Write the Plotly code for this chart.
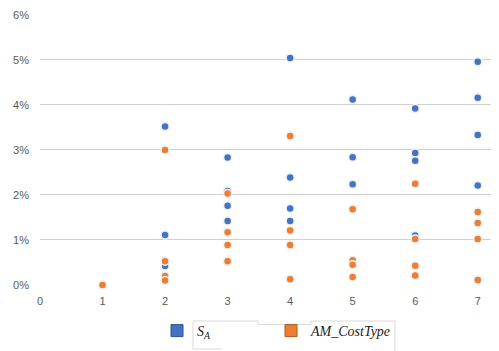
import plotly.graph_objects as go

# Data
sa_x = [1, 2, 2, 2, 3, 3, 3, 3, 4, 4, 4, 4, 5, 5, 5, 6, 6, 6, 6, 7, 7, 7, 7]
sa_y = [0.0, 0.0352, 0.0111, 0.0042,
        0.0283, 0.0209, 0.0176, 0.0142,
        0.0504, 0.0239, 0.0170, 0.0142,
        0.0412, 0.0284, 0.0224,
        0.0392, 0.0293, 0.0276, 0.0110,
        0.0496, 0.0416, 0.0333, 0.0221]

am_x = [1, 2, 2, 2, 2, 3, 3, 3, 3, 4, 4, 4, 4, 5, 5, 5, 5, 6, 6, 6, 6, 7, 7, 7, 7]
am_y = [0.0, 0.0300, 0.0053, 0.0020, 0.0010,
        0.0203, 0.0117, 0.0089, 0.0053,
        0.0331, 0.0121, 0.0089, 0.0013,
        0.0168, 0.0055, 0.0045, 0.0018,
        0.0225, 0.0102, 0.0043, 0.0021,
        0.0162, 0.0138, 0.0102, 0.0011]

x_ticks = [0, 1, 2, 3, 4, 5, 6, 7]
y_ticks = [0, 0.01, 0.02, 0.03, 0.04, 0.05, 0.06]

BLUE = "#4472C4"
ORANGE = "#ED7D31"

fig = go.Figure()
fig.add_trace(go.Scatter(x=sa_x, y=sa_y, mode="markers", showlegend=False, cliponaxis=False,
                         marker=dict(color=BLUE, size=8, line=dict(color="#f0f0f0", width=1.5))))
fig.add_trace(go.Scatter(x=am_x, y=am_y, mode="markers", showlegend=False, cliponaxis=False,
                         marker=dict(color=ORANGE, size=8, line=dict(color="#f0f0f0", width=1.5))))
# legend entries (square swatches)
fig.add_trace(go.Scatter(x=[None], y=[None], mode="markers", name="<i>S<sub>A</sub></i>",
                         legend="legend",
                         marker=dict(symbol="square", color=BLUE, size=12, line=dict(color="#2F528F", width=1))))
fig.add_trace(go.Scatter(x=[None], y=[None], mode="markers", name="<i>AM_CostType</i>",
                         legend="legend2",
                         marker=dict(symbol="square", color=ORANGE, size=12, line=dict(color="#AE5A21", width=1))))

# page body has an 8px default margin, so the figure is offset by 8px
OFF = 8
W, H = 499 - OFF, 351 - OFF
L, R, T, B = 32, 0, 6, 66
pw, ph = W - L - R, H - T - B

def px(xp):
    return (xp - OFF - L) / pw

def py(yp):
    return (H - B - (yp - OFF)) / ph

# thin frame artifact around the legend
path = (f"M {px(193)},{py(349)} L {px(193)},{py(321)} L {px(258)},{py(321)} "
        f"L {px(258)},{py(324.5)} L {px(311)},{py(324.5)} L {px(311)},{py(321)} "
        f"L {px(395)},{py(321)} L {px(395)},{py(352)}")
fig.add_shape(type="path", path=path, xref="paper", yref="paper", layer="below",
              line=dict(color="#d9d9d9", width=1))
fig.add_shape(type="line", x0=px(193), x1=px(222), y0=py(349), y1=py(349), layer="below",
              xref="paper", yref="paper", line=dict(color="#d9d9d9", width=1))

legend_font = dict(family="Liberation Serif, serif", size=14, color="#222222")

fig.update_layout(
    width=W, height=H,
    margin=dict(l=L, r=R, t=T, b=B, autoexpand=False),
    plot_bgcolor="white", paper_bgcolor="white",
    font=dict(family="Liberation Sans, Arial, sans-serif", size=11, color="#595959"),
    xaxis=dict(range=[0, 7.34], tickvals=x_ticks, showgrid=False, zeroline=False,
               showline=False, ticks="", ticklabelstandoff=8),
    yaxis=dict(range=[0, 0.0602], tickvals=y_ticks, tickformat=".0%", showgrid=True,
               gridcolor="#d0d0d0", gridwidth=1, zeroline=False, showline=False,
               ticks="", ticklabelstandoff=10),
    legend=dict(orientation="h", x=px(157), xanchor="left", y=py(331), yanchor="middle",
                font=legend_font, itemwidth=30, bgcolor="rgba(0,0,0,0)"),
    legend2=dict(orientation="h", x=px(271), xanchor="left", y=py(331), yanchor="middle",
                 font=legend_font, itemwidth=30, bgcolor="rgba(0,0,0,0)"),
)

fig.write_html("out.html")
